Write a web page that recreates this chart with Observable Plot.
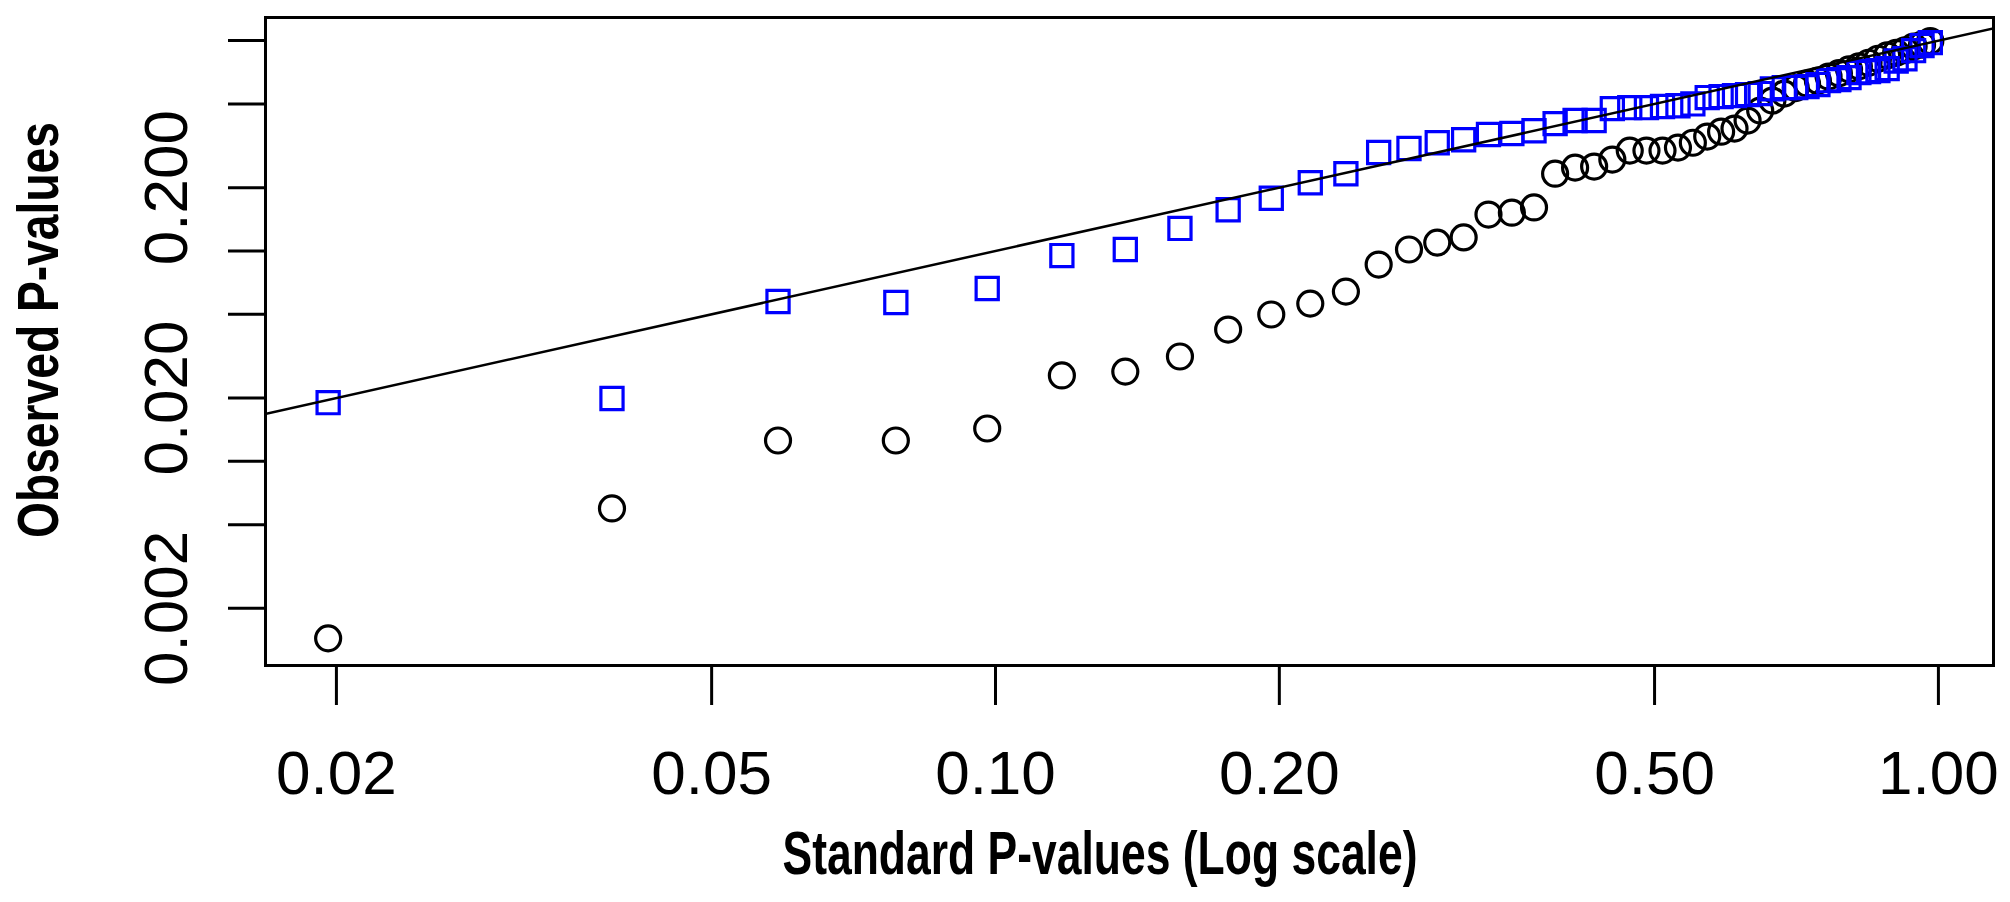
<!DOCTYPE html>
<html><head><meta charset="utf-8">
<script src="https://cdn.jsdelivr.net/npm/d3@7"></script>
<script src="https://cdn.jsdelivr.net/npm/@observablehq/plot@0.6"></script>
<style>
html,body{margin:0;padding:0;background:#fff;}
#chart svg{display:block;}
</style></head><body><div id="chart"></div>
<script>
// Standard (expected) p-values, x axis
const standardP = [0.0196,0.0392,0.0588,0.0784,0.0980,0.1176,0.1373,0.1569,0.1765,0.1961,
  0.2157,0.2353,0.2549,0.2745,0.2941,0.3137,0.3333,0.3529,0.3725,0.3922,
  0.4118,0.4314,0.4510,0.4706,0.4902,0.5098,0.5294,0.5490,0.5686,0.5882,
  0.6078,0.6275,0.6471,0.6667,0.6863,0.7059,0.7255,0.7451,0.7647,0.7843,
  0.8039,0.8235,0.8431,0.8627,0.8824,0.9020,0.9216,0.9412,0.9608,0.9804];
// Observed p-values (black circles)
const observedRaw = [0.00144,0.00597,0.01256,0.01256,0.01432,0.0256,0.0267,0.0315,0.0423,0.0499,
  0.0562,0.0641,0.0862,0.1016,0.1096,0.116,0.149,0.152,0.161,0.233,
  0.249,0.252,0.272,0.300,0.300,0.300,0.310,0.327,0.350,0.369,
  0.382,0.417,0.465,0.519,0.560,0.595,0.625,0.645,0.675,0.700,
  0.730,0.755,0.785,0.820,0.850,0.875,0.900,0.937,0.957,0.995];
// Observed p-values (blue squares)
const observedAdj = [0.0190,0.0199,0.0575,0.0569,0.0663,0.0951,0.1016,0.128,0.157,0.178,
  0.211,0.233,0.294,0.307,0.327,0.338,0.358,0.362,0.373,0.403,
  0.417,0.417,0.475,0.480,0.480,0.486,0.490,0.500,0.536,0.542,
  0.548,0.554,0.560,0.590,0.598,0.598,0.604,0.618,0.645,0.652,
  0.667,0.705,0.712,0.720,0.736,0.800,0.820,0.896,0.947,0.978];
// Identity reference line end points (abline y = x)
const refLine = [0.0168, 1.144];
// Axis ticks and labels
const xTicks = [0.02, 0.05, 0.10, 0.20, 0.50, 1.00];
const xTickLabels = ["0.02", "0.05", "0.10", "0.20", "0.50", "1.00"];
const yTicks = [0.002, 0.005, 0.01, 0.02, 0.05, 0.1, 0.2, 0.5, 1];
const yTickLabels = ["0.002", "", "", "0.020", "", "", "0.200", "", ""];
const xTitle = "Standard P-values (Log scale)";
const yTitle = "Observed P-values";

const data = standardP.map((x, i) => ({x, raw: observedRaw[i], adj: observedAdj[i]}));
const ref = refLine.map(v => ({x: v, y: v}));
const xLab = new Map(xTicks.map((t, i) => [t, xTickLabels[i]]));
const yLab = new Map(yTicks.map((t, i) => [t, yTickLabels[i]]));

const W = 2010, H = 902;
const chart = Plot.plot({
  width: W, height: H,
  marginLeft: 265, marginRight: 17, marginTop: 17, marginBottom: 237,
  style: {fontFamily: "'Liberation Sans', Arial, sans-serif", background: "white", color: "black"},
  x: {type: "log", domain: [0.01682, 1.144]},
  y: {type: "log", domain: [0.00107, 1.288]},
  marks: [
    Plot.axisX({ticks: xTicks, tickFormat: d => xLab.get(d), tickSize: 40, tickPadding: 44,
      fontSize: 62, strokeWidth: 3, label: null}),
    Plot.axisY({ticks: yTicks, tickFormat: d => yLab.get(d), tickRotate: -90, tickSize: 37, tickPadding: 42,
      fontSize: 62, strokeWidth: 3, label: null}),
    Plot.dot(data, {x: "x", y: "raw", r: 12.5, symbol: "circle", stroke: "black", strokeWidth: 3.2, fill: "none"}),
    Plot.dot(data, {x: "x", y: "adj", r: 12.5, symbol: "square", stroke: "#0000ff", strokeWidth: 3.2, fill: "none"}),
    Plot.line(ref, {x: "x", y: "y", stroke: "black", strokeWidth: 2.5, clip: true}),
    Plot.frame({stroke: "black", strokeWidth: 3})
  ]
});
document.getElementById("chart").appendChild(chart);

const svg = d3.select(chart);
svg.append("text")
  .attr("x", 1100).attr("y", 874)
  .attr("text-anchor", "middle")
  .attr("font-family", "'Liberation Sans', Arial, sans-serif")
  .attr("font-weight", "bold").attr("font-size", 62)
  .attr("textLength", 635).attr("lengthAdjust", "spacingAndGlyphs")
  .text(xTitle);
svg.append("text")
  .attr("transform", "translate(58,330) rotate(-90)")
  .attr("text-anchor", "middle")
  .attr("font-family", "'Liberation Sans', Arial, sans-serif")
  .attr("font-weight", "bold").attr("font-size", 58)
  .attr("textLength", 416).attr("lengthAdjust", "spacingAndGlyphs")
  .text(yTitle);
</script></body></html>
